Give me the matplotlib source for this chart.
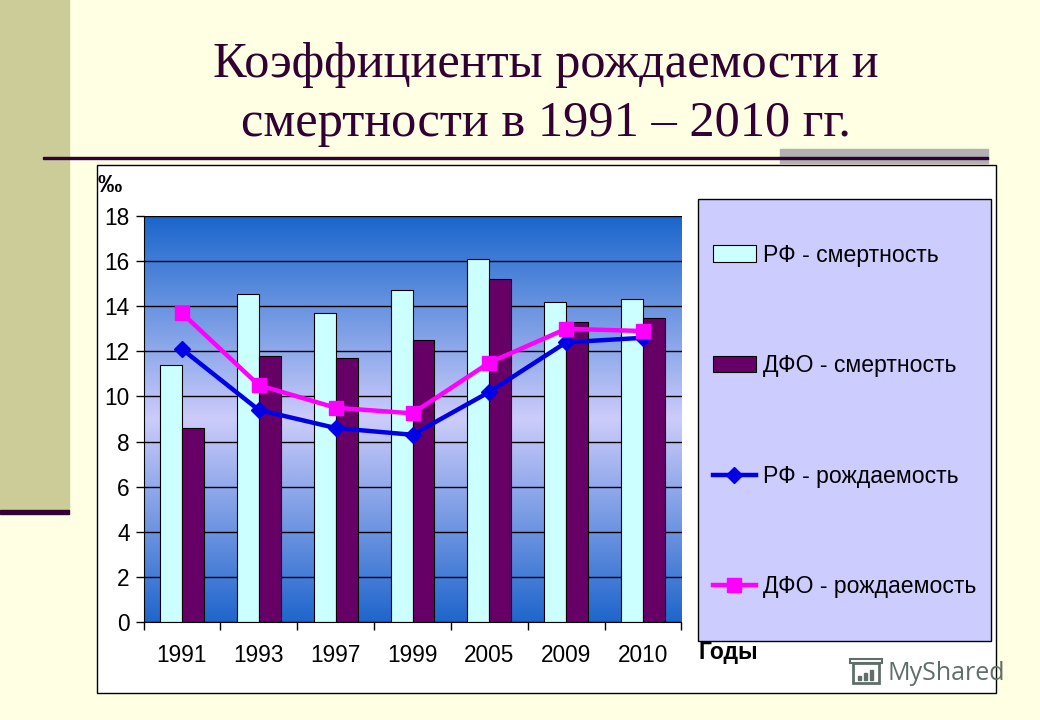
import matplotlib
matplotlib.use('Agg')
import matplotlib.pyplot as plt
import numpy as np
from matplotlib.colors import LinearSegmentedColormap
from matplotlib.patches import Rectangle

# Data
years = ['1991', '1993', '1997', '1999', '2005', '2009', '2010']
rf_deaths = [11.4, 14.55, 13.7, 14.7, 16.1, 14.2, 14.3]
dfo_deaths = [8.6, 11.8, 11.7, 12.5, 15.2, 13.3, 13.5]
rf_births = [12.1, 9.4, 8.6, 8.3, 10.2, 12.4, 12.6]
dfo_births = [13.7, 10.5, 9.5, 9.25, 11.5, 13.0, 12.9]
y_ticks = [0, 2, 4, 6, 8, 10, 12, 14, 16, 18]

W, H = 1040, 720
plt.rcParams['font.family'] = ['Liberation Sans', 'DejaVu Sans']
fig = plt.figure(figsize=(W / 100, H / 100), dpi=100, facecolor='#FFFFE3')


# pixel box (top-left origin) to figure fractions
def box(x0, y0, x1, y1):
    return (x0 / W, 1 - y1 / H, (x1 - x0) / W, (y1 - y0) / H)


def add_rect(x0, y0, x1, y1, zorder=0, **kw):
    l, b, w, h = box(x0, y0, x1, y1)
    fig.add_artist(Rectangle((l, b), w, h, transform=fig.transFigure, zorder=zorder, **kw))


# Slide decoration
add_rect(0, 0, 69, 510, color='#CCCC99')
add_rect(0, 510, 69, 514, color='#330033')
add_rect(780, 149, 988, 163, color='#B2B2B2')
add_rect(43, 156.5, 988, 158.5, color='#330033', zorder=1)
add_rect(96.5, 164.5, 995.5, 693, facecolor='white', edgecolor='black', linewidth=1, zorder=1)
add_rect(697.5, 198.5, 991, 641, facecolor='#CCCCFF', edgecolor='black', linewidth=1, zorder=1)

# Title
fig.text(546 / W, 1 - 65 / H, 'Коэффициенты рождаемости и', family='Liberation Serif',
         fontsize=36.4, color='#330033', ha='center', va='center')
fig.text(546 / W, 1 - 124 / H, 'смертности в 1991 – 2010 гг.', family='Liberation Serif',
         fontsize=36.4, color='#330033', ha='center', va='center')

# Plot area
ax = fig.add_axes(box(143.5, 216, 681.5, 622), zorder=2)
x = np.arange(len(years))
bar_w = 0.286

grad = LinearSegmentedColormap.from_list('bg', ['#1A66CC', '#CCCCFA', '#1F66CC'])
ax.imshow(np.linspace(0, 1, 256).reshape(-1, 1), cmap=grad, aspect='auto',
          extent=(-0.5, 6.5, 0, 18), zorder=0)
ax.yaxis.grid(True, color='black', linewidth=1)
ax.xaxis.grid(False)
for line in ax.get_ygridlines():
    line.set_zorder(1)

b1 = ax.bar(x - bar_w / 2, rf_deaths, bar_w, color='#CCFFFF', edgecolor='black', linewidth=0.8,
            label='РФ - смертность', zorder=2)
b2 = ax.bar(x + bar_w / 2, dfo_deaths, bar_w, color='#660066', edgecolor='black', linewidth=0.8,
            label='ДФО - смертность', zorder=2)
l1, = ax.plot(x, rf_births, color='#0000E6', lw=3.2, marker='D', ms=8.5,
              label='РФ - рождаемость', zorder=3)
l2, = ax.plot(x, dfo_births, color='#FF00FF', lw=3.2, marker='s', ms=10,
              label='ДФО - рождаемость', zorder=4)

ax.set_xlim(-0.5, 6.5)
ax.set_ylim(0, 18)
ax.set_yticks(y_ticks)
ax.set_xticks(np.arange(-0.5, 7, 1))
ax.set_xticklabels([])
ax.set_xticks(x, years, minor=True)
ax.tick_params(axis='x', which='minor', length=0, pad=16, labelsize=16.3)
ax.tick_params(axis='x', which='major', length=6, width=1)
ax.tick_params(axis='y', length=6, width=1, labelsize=16.3, pad=4)
ax.spines['top'].set_visible(False)
ax.spines['right'].set_visible(False)

# Axis captions
fig.text(98 / W, 1 - 185 / H, '‰', fontsize=17.5, fontweight='bold', ha='left', va='center', zorder=3)
fig.text(699 / W, 1 - 653 / H, 'Годы', fontsize=16.5, fontweight='bold', ha='left', va='center', zorder=3)

# Legend
leg = fig.legend(handles=[b1, b2, l1, l2], loc='center left',
                 bbox_to_anchor=(692 / W, 1 - 421 / H), frameon=False, fontsize=16.6,
                 labelspacing=3.8, handlelength=1.88, handleheight=0.7, handletextpad=0.3)
leg.set_zorder(3)

# Watermark with a rough icon
icon = '#5F6F68'
add_rect(853, 663, 879, 683, zorder=5, facecolor='none', edgecolor=icon, linewidth=2)
add_rect(850, 659, 882, 663, zorder=5, facecolor='none', edgecolor=icon, linewidth=1.5)
add_rect(858, 676, 861, 680, zorder=5, color=icon)
add_rect(864, 673, 867, 680, zorder=5, color=icon)
add_rect(870, 670, 873, 680, zorder=5, color=icon)
fig.text(888 / W, 1 - 674 / H, 'MyShared', family='Open Sans', fontsize=18, color=icon,
         ha='left', va='center', zorder=5)

fig.savefig('out.png', dpi=100, facecolor=fig.get_facecolor())
